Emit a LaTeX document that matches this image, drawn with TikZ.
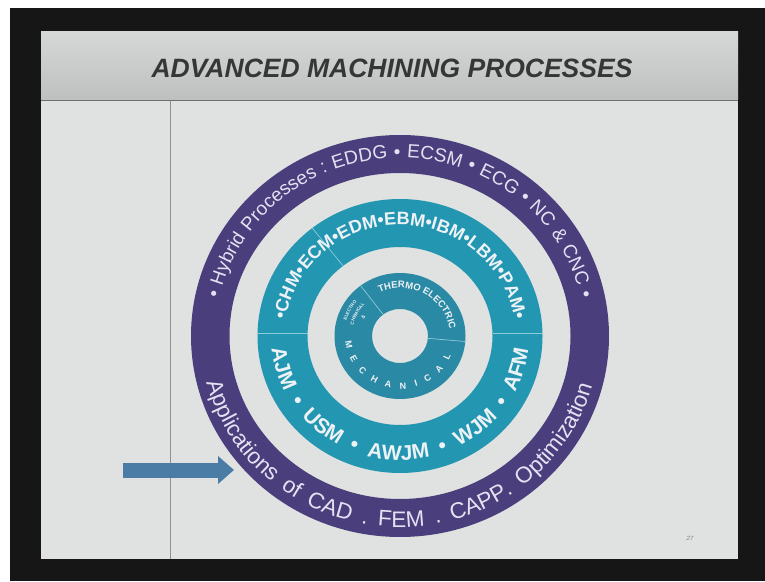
\documentclass[tikz,border=0pt]{standalone}
\usepackage{fontspec}
\setmainfont{Liberation Sans}
\usetikzlibrary{decorations.text,arrows.meta}

\definecolor{frame}{HTML}{161616}
\definecolor{slidebg}{HTML}{E0E2E1}
\definecolor{bartop}{HTML}{D5D8D7}
\definecolor{barbot}{HTML}{BDC0BF}
\definecolor{barline}{HTML}{6E7070}
\definecolor{rule}{HTML}{8E9090}
\definecolor{titleink}{HTML}{363636}
\definecolor{ringpurple}{HTML}{4A3E7C}
\definecolor{ringteal}{HTML}{2396B1}
\definecolor{ringtealdark}{HTML}{2A89A4}
\definecolor{ringink}{HTML}{EDF2F6}
\definecolor{purpleink}{HTML}{E4E2F2}
\definecolor{arrowblue}{HTML}{4A7CA5}
\definecolor{seam}{HTML}{8CCAD9}

\tikzset{
  seamline/.style={seam, line width=0.7pt},
  curved/.style={decorate, decoration={text along path, text color=#1, text align=center}},
  curvedfit/.style={decorate, decoration={text along path, text color=#1, text align=fit to path stretching spaces}},
  curvedspread/.style={decorate, decoration={text along path, text color=#1, text align=fit to path}}
}

\begin{document}
\begin{tikzpicture}[x=1pt,y=1pt]
\useasboundingbox (0,0) rectangle (765,581);

% screen frame and slide
\fill[white] (0,0) rectangle (765,581);
\fill[frame] (10,0) rectangle (765,573);
\fill[slidebg] (41,22) rectangle (738,549);
\shade[top color=bartop, bottom color=barbot] (41,481) rectangle (738,549);
\draw[barline, line width=1.5pt] (41,480.5) -- (738,480.5);
\draw[rule, line width=0.8pt] (170,22) -- (170,479.5);

\node[font=\fontsize{26.5}{28}\selectfont\bfseries\itshape, text=titleink] (title) at (392,513) {ADVANCED MACHINING PROCESSES};
\node[font=\fontsize{6}{6}\selectfont\itshape, text=gray] (pageno) at (690,43) {27};

% pointer arrow
\coordinate (arrowtail) at (123,111);
\coordinate (arrowtip) at (234,111);
\draw[arrowblue, line width=15pt, -{Triangle[length=16pt,width=27pt]}] (arrowtail) -- (arrowtip);

\begin{scope}[shift={(400,245)}]
\coordinate (c) at (0,0);

% rings
\fill[ringpurple, even odd rule] (c) ellipse [x radius=209, y radius=201] (c) ellipse [x radius=170.5, y radius=163];
\fill[ringteal, even odd rule] (c) ellipse [x radius=142.5, y radius=137] (c) ellipse [x radius=92.5, y radius=89];
\fill[ringtealdark, even odd rule] (c) ellipse [x radius=65.5, y radius=63] (c) ellipse [x radius=28, y radius=27];

% seams between the groups
\draw[seamline] (-142.5,3) -- (-92.5,3);
\draw[seamline] (92.5,3) -- (142.5,3);
\draw[seamline] (128:92.5 and 89) -- (128:142.5 and 137);
\draw[seamline] (127:28 and 27) -- (127:65.5 and 63);
\draw[seamline] (-5:28 and 27) -- (-5:65.5 and 63);

% outer ring
\path[curvedfit=purpleink, decoration={text={|\fontsize{19}{19}\selectfont|• Hybrid Processes : EDDG • ECSM • ECG • NC {\&} CNC •}}]
  (168:185 and 178) arc[start angle=168, end angle=12, x radius=185, y radius=178];
\path[curvedfit=purpleink, decoration={text={|\fontsize{22.5}{22.5}\selectfont|Applications of CAD . FEM . CAPP. Optimization}}]
  (194:199 and 191) arc[start angle=194, end angle=345, x radius=199, y radius=191];

% middle ring
\path[curved=ringink, decoration={text={|\fontsize{18}{18}\selectfont\bfseries|•CHM•ECM•EDM•EBM•IBM•LBM•PAM•}}]
  (177:115.5 and 111) arc[start angle=177, end angle=3, x radius=115.5, y radius=111];
\path[curvedfit=ringink, decoration={text={|\fontsize{21}{21}\selectfont\bfseries|AJM • USM • AWJM • WJM • AFM}}]
  (186:129 and 124) arc[start angle=186, end angle=354, x radius=129, y radius=124];

% inner ring
\path[curved=ringink, decoration={text={|\fontsize{9.5}{9.5}\selectfont\bfseries|THERMO ELECTRIC}}]
  (118:50 and 48) arc[start angle=118, end angle=4, x radius=50, y radius=48];
\path[curvedspread=ringink, decoration={text={|\fontsize{9}{9}\selectfont\bfseries|MECHANICAL}}]
  (186:55 and 53) arc[start angle=186, end angle=338, x radius=55, y radius=53];
\path[curved=ringink, decoration={text={|\fontsize{4.5}{4.5}\selectfont\bfseries|ELECTRO}}]
  (172:56 and 54) arc[start angle=172, end angle=132, x radius=56, y radius=54];
\path[curved=ringink, decoration={text={|\fontsize{4.5}{4.5}\selectfont\bfseries|CHEMICAL}}]
  (172:48 and 46.5) arc[start angle=172, end angle=132, x radius=48, y radius=46.5];
\path[curved=ringink, decoration={text={|\fontsize{5}{5}\selectfont\bfseries|{\&}}}]
  (172:40 and 39) arc[start angle=172, end angle=132, x radius=40, y radius=39];
\end{scope}
\end{tikzpicture}
\end{document}
